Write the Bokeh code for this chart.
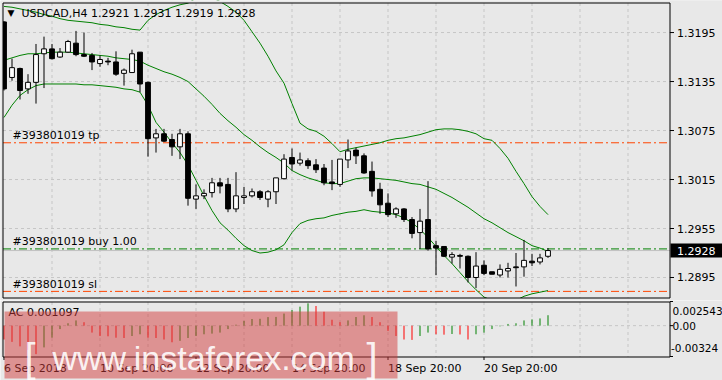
from bokeh.plotting import figure
from bokeh.models import Range1d, Label, ColumnDataSource
from bokeh.layouts import column
from bokeh.embed import file_html
from bokeh.resources import INLINE
from bokeh.core.properties import value

# ---------------- data (USDCAD H4) ----------------
opens = [1.3208, 1.3140, 1.3151, 1.3126, 1.3134, 1.3169, 1.3175, 1.3165, 1.3171, 1.3182,
         1.3168, 1.3167, 1.3157, 1.3160, 1.3159, 1.3145, 1.3146, 1.3171, 1.3134, 1.3066,
         1.3071, 1.3064, 1.3055, 1.3071, 1.2991, 1.2995, 1.2999, 1.3011, 1.3009, 1.2979,
         1.2993, 1.2995, 1.3000, 1.2991, 1.3000, 1.3016, 1.3042, 1.3035, 1.3038, 1.3033,
         1.3029, 1.3012, 1.3009, 1.3039, 1.3051, 1.3044, 1.3025, 1.3003, 1.2986, 1.2973,
         1.2979, 1.2966, 1.2950, 1.2966, 1.2934, 1.2933, 1.2920, 1.2922, 1.2921, 1.2895,
         1.2910, 1.2902, 1.2898, 1.2903, 1.2908, 1.2908, 1.2915, 1.2914, 1.2921]
highs = [1.3209, 1.3163, 1.3152, 1.3144, 1.3181, 1.3190, 1.3181, 1.3176, 1.3186, 1.3197,
         1.3195, 1.3170, 1.3167, 1.3164, 1.3172, 1.3151, 1.3174, 1.3171, 1.3135, 1.3077,
         1.3077, 1.3071, 1.3077, 1.3074, 1.3009, 1.3003, 1.3017, 1.3017, 1.3017, 1.3024,
         1.3006, 1.3004, 1.3002, 1.3002, 1.3017, 1.3046, 1.3053, 1.3048, 1.3041, 1.3040,
         1.3034, 1.3039, 1.3040, 1.3064, 1.3054, 1.3047, 1.3037, 1.3011, 1.2998, 1.2981,
         1.2980, 1.2969, 1.2979, 1.3013, 1.2940, 1.2933, 1.2926, 1.2924, 1.2922, 1.2926,
         1.2916, 1.2902, 1.2911, 1.2913, 1.2925, 1.2941, 1.2924, 1.2924, 1.2931]
lows = [1.3124, 1.3136, 1.3113, 1.3120, 1.3108, 1.3127, 1.3162, 1.3164, 1.3170, 1.3166,
        1.3165, 1.3149, 1.3153, 1.3155, 1.3142, 1.3130, 1.3146, 1.3122, 1.3043, 1.3048,
        1.3061, 1.3044, 1.3040, 1.2983, 1.2979, 1.2991, 1.2993, 1.2998, 1.2975, 1.2975,
        1.2985, 1.2993, 1.2990, 1.2981, 1.2985, 1.3015, 1.3026, 1.3032, 1.3028, 1.3023,
        1.3008, 1.3002, 1.3006, 1.3029, 1.3034, 1.3022, 1.2994, 1.2973, 1.2969, 1.2968,
        1.2963, 1.2943, 1.2930, 1.2928, 1.2898, 1.2920, 1.2912, 1.2906, 1.2889, 1.2882,
        1.2898, 1.2899, 1.2895, 1.2895, 1.2884, 1.2896, 1.2909, 1.2911, 1.2919]
closes = [1.3126, 1.3152, 1.3124, 1.3134, 1.3168, 1.3175, 1.3163, 1.3171, 1.3184, 1.3168,
          1.3166, 1.3159, 1.3162, 1.3159, 1.3144, 1.3149, 1.3169, 1.3132, 1.3065, 1.3071,
          1.3062, 1.3055, 1.3071, 1.2992, 1.2995, 1.2998, 1.3011, 1.3007, 1.2979, 1.2995,
          1.2995, 1.3000, 1.2993, 1.3000, 1.3017, 1.3040, 1.3034, 1.3039, 1.3032, 1.3027,
          1.3011, 1.3010, 1.3040, 1.3050, 1.3044, 1.3023, 1.3001, 1.2984, 1.2972, 1.2979,
          1.2966, 1.2949, 1.2964, 1.2930, 1.2931, 1.2921, 1.2923, 1.2921, 1.2895, 1.2909,
          1.2900, 1.2899, 1.2905, 1.2906, 1.2907, 1.2916, 1.2913, 1.2919, 1.2928]

bb_upper = [1.3227, 1.3226, 1.3224, 1.3222, 1.3220, 1.3217, 1.3215, 1.3212, 1.3210, 1.3209,
            1.3208, 1.3207, 1.3205, 1.3204, 1.3202, 1.3201, 1.3199, 1.3198, 1.3210, 1.3217,
            1.3222, 1.3226, 1.3229, 1.3231, 1.3237, 1.3239, 1.3238, 1.3233, 1.3227, 1.3220,
            1.3210, 1.3196, 1.3182, 1.3166, 1.3148, 1.3133, 1.3108, 1.3084, 1.3077, 1.3074,
            1.3068, 1.3059, 1.3049, 1.3052, 1.3054, 1.3056, 1.3058, 1.3060, 1.3063, 1.3065,
            1.3066, 1.3068, 1.3070, 1.3073, 1.3076, 1.3077, 1.3077, 1.3076, 1.3074, 1.3071,
            1.3065, 1.3063, 1.3053, 1.3041, 1.3025, 1.3010, 1.2994, 1.2982, 1.2972]
bb_middle = [1.3161, 1.3164, 1.3167, 1.3169, 1.3169, 1.3170, 1.3171, 1.3171, 1.3171, 1.3170,
             1.3169, 1.3168, 1.3167, 1.3166, 1.3164, 1.3163, 1.3162, 1.3160, 1.3155, 1.3151,
             1.3147, 1.3144, 1.3140, 1.3135, 1.3126, 1.3117, 1.3107, 1.3096, 1.3087, 1.3079,
             1.3070, 1.3063, 1.3055, 1.3048, 1.3042, 1.3035, 1.3026, 1.3021, 1.3017, 1.3014,
             1.3011, 1.3010, 1.3010, 1.3013, 1.3016, 1.3017, 1.3017, 1.3016, 1.3015, 1.3014,
             1.3012, 1.3010, 1.3009, 1.3006, 1.3003, 1.2998, 1.2993, 1.2987, 1.2981, 1.2974,
             1.2967, 1.2962, 1.2956, 1.2950, 1.2945, 1.2940, 1.2934, 1.2931, 1.2927]
bb_lower = [1.3091, 1.3106, 1.3118, 1.3125, 1.3130, 1.3132, 1.3132, 1.3132, 1.3132, 1.3132,
            1.3131, 1.3131, 1.3130, 1.3129, 1.3128, 1.3126, 1.3125, 1.3122, 1.3106, 1.3085,
            1.3073, 1.3060, 1.3048, 1.3033, 1.3014, 1.2995, 1.2977, 1.2962, 1.2953, 1.2943,
            1.2934, 1.2928, 1.2925, 1.2926, 1.2929, 1.2935, 1.2950, 1.2961, 1.2965, 1.2967,
            1.2968, 1.2971, 1.2973, 1.2975, 1.2976, 1.2978, 1.2976, 1.2975, 1.2974, 1.2972,
            1.2968, 1.2962, 1.2954, 1.2944, 1.2933, 1.2922, 1.2912, 1.2901, 1.2890, 1.2880,
            1.2871, 1.2867, 1.2863, 1.2863, 1.2867, 1.2872, 1.2875, 1.2877, 1.2879]

ac_values = [-0.00146, -0.00171, -0.00218, -0.00255, -0.00300, -0.00229, -0.00127, -0.00036, 0.00025, 0.00055,
             0.00036, -0.00073, -0.00109, -0.00112, -0.00127, -0.00130, -0.00109, -0.00091, -0.00127, -0.00130,
             -0.00146, -0.00175, -0.00160, -0.00130, -0.00109, -0.00091, -0.00084, -0.00073, -0.00036, 0.00010,
             0.00050, 0.00070, 0.00072, 0.00090, 0.00092, 0.00127, 0.00164, 0.00200, 0.00235, 0.00207,
             0.00146, 0.00062, 0.00036, 0.00055, 0.00091, 0.00109, 0.00091, 0.00036, -0.00055, -0.00109,
             -0.00146, -0.00150, -0.00109, -0.00073, -0.00091, -0.00095, -0.00088, -0.00093, -0.00146, -0.00091,
             -0.00073, -0.00036, -0.00007, 0.00018, 0.00025, 0.00055, 0.00066, 0.00076, 0.001097]

order_id = "#393801019"
tp_price = 1.3060
buy_price = 1.2930
sl_price = 1.2878
bid_price = 1.2928

price_ticks = [1.2895, 1.2955, 1.3015, 1.3075, 1.3135, 1.3195]
grid_bars = [6, 12, 18, 24, 30, 36, 42, 48, 54, 60, 66, 72, 78]
time_ticks = [0, 12, 24, 36, 48, 60]
time_labels = ["6 Sep 2018", "10 Sep 20:00", "12 Sep 20:00", "14 Sep 20:00",
               "18 Sep 20:00", "20 Sep 20:00"]
ac_max, ac_min = 0.002543, -0.003249
ac_tick_values = [ac_max, 0.0, ac_min]
ac_tick_labels = ["0.002543", "0.00", "-0.00324"]

# ---------------- page geometry ----------------
BG = "#e8e8e8"
GRID = "#c6c6c6"
FONT = "DejaVu Sans"
FS = "11px"
GREEN = "#008000"
ORANGE = "#ff4500"
W = 722
BAR_PX = 8.0
XS = -3.5 / BAR_PX                     # bar i centred at page x = 3.5 + 8 i


def xp(px):
    return XS + px / BAR_PX


Y_TOP, Y_BOT = 1.32318, 1.28705        # main panel: page y 2 .. 297
KM = (Y_TOP - Y_BOT) / 295.0


def yp(py):
    return Y_TOP - (py - 2) * KM


KA = (ac_max - ac_min) / 55.0           # AC panel: page y 301 .. 356


def ya(py):
    return ac_max - (py - 301) * KA


xr = Range1d(xp(0), xp(W))
N = len(closes)
idx = list(range(N))
PL, PR = xp(2.5), xp(669.5)

common = dict(width=W, x_range=xr, output_backend="svg", toolbar_location=None,
              x_axis_location=None, y_axis_location=None,
              min_border_left=0, min_border_right=0, min_border_top=0, min_border_bottom=0,
              background_fill_color=BG, border_fill_color=BG, outline_line_color=None)

# ================= main panel =================
main = figure(height=300, y_range=Range1d(yp(300), yp(0)), **common)
main.grid.visible = False

# grid
main.segment(x0=grid_bars, y0=yp(2.5), x1=grid_bars, y1=yp(297.5),
             line_color=GRID, line_dash="3 3", line_width=1)
main.segment(x0=PL, y0=price_ticks, x1=PR, y1=price_ticks,
             line_color=GRID, line_dash="3 3", line_width=1)

# order lines
main.segment(x0=PL, y0=bid_price, x1=PR, y1=bid_price, line_color="#c0c0c0", line_width=1)
for loc, col in ((tp_price, ORANGE), (buy_price, GREEN), (sl_price, ORANGE)):
    main.segment(x0=PL, y0=loc, x1=PR, y1=loc, line_color=col, line_width=1,
                 line_dash="8 3 2 3")

# bollinger bands
for band in (bb_upper, bb_middle, bb_lower):
    main.line(idx, band, line_color=GREEN, line_width=1)

# candles
src = ColumnDataSource(dict(
    x=idx, o=opens, h=highs, l=lows, c=closes,
    top=[max(o, c) for o, c in zip(opens, closes)],
    bot=[min(o, c) for o, c in zip(opens, closes)],
    fill=["white" if c >= o else "black" for o, c in zip(opens, closes)],
))
main.segment(x0="x", y0="h", x1="x", y1="l", source=src, line_color="black", line_width=1)
main.vbar(x="x", top="top", bottom="bot", width=0.6, fill_color="fill",
          line_color="black", line_width=1, source=src)

# margins outside the panel (covers anything drawn past the frame)
main.quad(left=[xp(0), xp(0), xp(0), xp(669.5)],
          right=[xp(2.5), xp(W), xp(W), xp(W)],
          top=[yp(0), yp(0), yp(297.5), yp(0)],
          bottom=[yp(300), yp(2.5), yp(300), yp(300)],
          fill_color=BG, line_color=None)
# panel border
main.quad(left=PL, right=PR, top=yp(2.5), bottom=yp(297.5),
          fill_color=None, line_color="black", line_width=1)

# price axis
main.segment(x0=xp(669.5), y0=price_ticks, x1=xp(673.5), y1=price_ticks,
             line_color="black", line_width=1)
main.text(x=xp(676.5), y=price_ticks, text=["%.4f" % t for t in price_ticks],
          text_font=value(FONT), text_font_size=value(FS), text_color="black",
          text_baseline="middle", text_align="left")

# current price box
main.quad(left=xp(670), right=xp(W), top=yp(243), bottom=yp(257),
          fill_color="black", line_color=None)
main.text(x=xp(676.5), y=[bid_price], text=["%.4f" % bid_price],
          text_font=value(FONT), text_font_size=value(FS), text_color="white",
          text_baseline="middle", text_align="left")

# texts in the panel
main.add_layout(Label(x=xp(7), y=yp(12.5), text="▼", text_font=FONT,
                      text_font_size="9px", text_baseline="middle", text_color="black"))
main.add_layout(Label(x=xp(21), y=yp(12.5),
                      text="USDCAD,H4   %.4f %.4f %.4f %.4f" % (opens[-1], highs[-1], lows[-1], closes[-1]),
                      text_font=FONT, text_font_size=FS, text_baseline="middle",
                      text_color="black"))
for txt, py in ((order_id + " tp", 135), (order_id + " buy 1.00", 241),
                (order_id + " sl", 283.5)):
    main.add_layout(Label(x=xp(12), y=yp(py), text=txt, text_font=FONT,
                          text_font_size=FS, text_baseline="middle", text_color="black"))

# ================= AC panel =================
ac = figure(height=80, y_range=Range1d(ya(380), ya(300)), **common)
ac.grid.visible = False

ac.segment(x0=grid_bars, y0=ya(301.5), x1=grid_bars, y1=ya(356.5),
           line_color=GRID, line_dash="3 3", line_width=1)
ac.segment(x0=PL, y0=0, x1=PR, y1=0, line_color=GRID, line_dash="3 3", line_width=1)

ac_colors = [GREEN if i > 0 and ac_values[i] > ac_values[i - 1] else "#ff0000"
             for i in range(N)]
asrc = ColumnDataSource(dict(x=idx, v=ac_values, col=ac_colors))
ac.segment(x0="x", y0=0, x1="x", y1="v", line_color="col", line_width=1, source=asrc)

ac.quad(left=PL, right=PR, top=ya(301.5), bottom=ya(356.5),
        fill_color=None, line_color="black", line_width=1)

# right scale
ac.segment(x0=xp(669.5), y0=ac_tick_values, x1=xp(672.5), y1=ac_tick_values,
           line_color="black", line_width=1)
ac.text(x=[xp(672), xp(672), xp(670.5)], y=[ya(310), ya(325), ya(347.7)],
        text=ac_tick_labels, text_font=value(FONT), text_font_size=value("10.5px"),
        text_color="black", text_baseline="middle", text_align="left")

# time axis
ac.segment(x0=time_ticks, y0=ya(356.5), x1=time_ticks, y1=ya(359.5),
           line_color="black", line_width=1)
ac.text(x=time_ticks, y=ya(367.5), text=time_labels, text_font=value(FONT),
        text_font_size=value(FS), text_color="black", text_baseline="middle",
        text_align="left")

ac.text(x=[xp(8)], y=[ya(312)], text=["AC %.6f" % ac_values[-1]], text_font=value(FONT),
        text_font_size=value(FS), text_color="black", text_baseline="middle",
        text_align="left")

# watermark
ac.quad(left=xp(4), right=xp(397), top=ya(311), bottom=ya(378),
        fill_color="#d23c3c", fill_alpha=0.5, line_color=None)
for txt, px, fs in (("[", 24, "40px"), ("www.instaforex.com", 52, "34px"), ("]", 366, "40px")):
    ac.add_layout(Label(x=xp(px), y=ya(357), text=txt, text_font="Liberation Sans",
                        text_font_size=fs, text_baseline="alphabetic",
                        text_color="white", text_alpha=0.9))

layout = column(main, ac, spacing=0)
open("out.html", "w").write(file_html(layout, INLINE))
